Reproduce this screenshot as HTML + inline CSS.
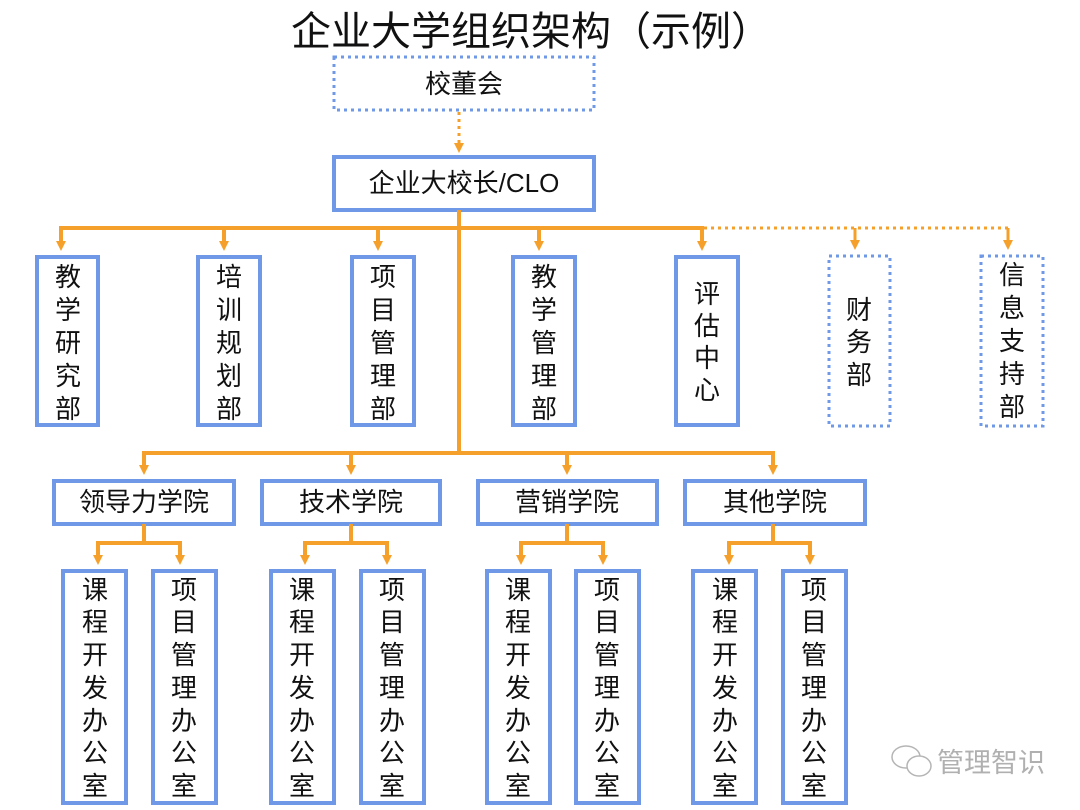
<!DOCTYPE html>
<html><head><meta charset="utf-8"><style>
html,body{margin:0;padding:0;background:#fff;}
svg{display:block;}
text{font-family:"Liberation Sans","Noto Sans CJK SC",sans-serif;fill:#111;}
.v{font-size:26px;text-anchor:middle;dominant-baseline:central;}
.h{font-size:26px;text-anchor:middle;dominant-baseline:central;}
</style></head><body>
<svg width="1080" height="810" viewBox="0 0 1080 810" xmlns="http://www.w3.org/2000/svg">
<defs>
<marker id="ar" markerWidth="12" markerHeight="12" refX="5" refY="5" markerUnits="userSpaceOnUse">
<path d="M0,0 L10,0 L5,10 Z" fill="#f5a02a"/></marker>
</defs>
<text x="531" y="32" style="font-size:40px;text-anchor:middle;dominant-baseline:central">企业大学组织架构（示例）</text>

<!-- boxes -->
<g fill="none" stroke="#6f98e6" stroke-width="4">
<rect x="334" y="57" width="260" height="53" stroke-dasharray="3 4" stroke-width="3"/>
<rect x="334" y="157" width="260" height="53"/>
<rect x="37" y="257" width="61" height="168"/>
<rect x="198" y="257" width="62" height="168"/>
<rect x="352" y="257" width="62" height="168"/>
<rect x="513" y="257" width="62" height="168"/>
<rect x="676" y="257" width="62" height="168"/>
<rect x="829" y="256" width="61" height="170" stroke-dasharray="3 4" stroke-width="3"/>
<rect x="981" y="256" width="62" height="170" stroke-dasharray="3 4" stroke-width="3"/>
<rect x="54" y="481" width="180" height="43"/>
<rect x="262" y="481" width="178" height="43"/>
<rect x="478" y="481" width="179" height="43"/>
<rect x="685" y="481" width="180" height="43"/>
<rect x="63" y="571" width="63" height="232"/>
<rect x="153" y="571" width="63" height="232"/>
<rect x="271" y="571" width="63" height="232"/>
<rect x="361" y="571" width="63" height="232"/>
<rect x="487" y="571" width="63" height="232"/>
<rect x="576" y="571" width="63" height="232"/>
<rect x="693" y="571" width="63" height="232"/>
<rect x="783" y="571" width="63" height="232"/>
</g>

<!-- connectors -->
<g fill="none" stroke="#f5a02a" stroke-width="4">
<line x1="459" y1="112" x2="459" y2="148" stroke-dasharray="3 4" stroke-width="3" marker-end="url(#ar)"/>
<line x1="459" y1="210" x2="459" y2="453"/>
<polyline points="61,246 61,228 702,228 702,246" marker-end="url(#ar)"/>
<line x1="224" y1="228" x2="224" y2="246" marker-end="url(#ar)"/>
<line x1="378" y1="228" x2="378" y2="246" marker-end="url(#ar)"/>
<line x1="539" y1="228" x2="539" y2="246" marker-end="url(#ar)"/>
<line x1="61" y1="230" x2="61" y2="246" marker-end="url(#ar)"/>
<polyline points="704,228 1008,228" stroke-dasharray="3 4" stroke-width="3"/>
<line x1="855" y1="228" x2="855" y2="245" stroke-width="3" marker-end="url(#ar)"/>
<line x1="1008" y1="228" x2="1008" y2="245" stroke-width="3" marker-end="url(#ar)"/>
<polyline points="144,470 144,453 773,453 773,470" marker-end="url(#ar)"/>
<line x1="144" y1="455" x2="144" y2="470" marker-end="url(#ar)"/>
<line x1="351" y1="453" x2="351" y2="470" marker-end="url(#ar)"/>
<line x1="567" y1="453" x2="567" y2="470" marker-end="url(#ar)"/>
<line x1="144" y1="524" x2="144" y2="543"/><polyline points="98,560 98,543 180,543 180,560" marker-end="url(#ar)"/><line x1="98" y1="545" x2="98" y2="560" marker-end="url(#ar)"/>
<line x1="351" y1="524" x2="351" y2="543"/><polyline points="305,560 305,543 387,543 387,560" marker-end="url(#ar)"/><line x1="305" y1="545" x2="305" y2="560" marker-end="url(#ar)"/>
<line x1="567" y1="524" x2="567" y2="543"/><polyline points="521,560 521,543 603,543 603,560" marker-end="url(#ar)"/><line x1="521" y1="545" x2="521" y2="560" marker-end="url(#ar)"/>
<line x1="773" y1="524" x2="773" y2="543"/><polyline points="729,560 729,543 810,543 810,560" marker-end="url(#ar)"/><line x1="729" y1="545" x2="729" y2="560" marker-end="url(#ar)"/>
</g>

<text class="h" x="464" y="84">校董会</text>
<text class="h" x="464" y="183">企业大校长/CLO</text>
<text class="h" x="144" y="502">领导力学院</text>
<text class="h" x="351" y="502">技术学院</text>
<text class="h" x="567" y="502">营销学院</text>
<text class="h" x="775" y="502">其他学院</text>

<g>
<text class="v"><tspan x="68" y="277">教</tspan><tspan x="68" y="310">学</tspan><tspan x="68" y="343">研</tspan><tspan x="68" y="376">究</tspan><tspan x="68" y="409">部</tspan></text>
<text class="v"><tspan x="229" y="277">培</tspan><tspan x="229" y="310">训</tspan><tspan x="229" y="343">规</tspan><tspan x="229" y="376">划</tspan><tspan x="229" y="409">部</tspan></text>
<text class="v"><tspan x="383" y="277">项</tspan><tspan x="383" y="310">目</tspan><tspan x="383" y="343">管</tspan><tspan x="383" y="376">理</tspan><tspan x="383" y="409">部</tspan></text>
<text class="v"><tspan x="544" y="277">教</tspan><tspan x="544" y="310">学</tspan><tspan x="544" y="343">管</tspan><tspan x="544" y="376">理</tspan><tspan x="544" y="409">部</tspan></text>
<text class="v"><tspan x="707" y="294">评</tspan><tspan x="707" y="326">估</tspan><tspan x="707" y="358">中</tspan><tspan x="707" y="390">心</tspan></text>
<text class="v"><tspan x="859" y="310">财</tspan><tspan x="859" y="342">务</tspan><tspan x="859" y="375">部</tspan></text>
<text class="v"><tspan x="1012" y="275">信</tspan><tspan x="1012" y="308">息</tspan><tspan x="1012" y="341">支</tspan><tspan x="1012" y="374">持</tspan><tspan x="1012" y="407">部</tspan></text>
</g>

<g>
<text class="v"><tspan x="95" y="590">课</tspan><tspan x="95" y="622">程</tspan><tspan x="95" y="655">开</tspan><tspan x="95" y="688">发</tspan><tspan x="95" y="721">办</tspan><tspan x="95" y="753">公</tspan><tspan x="95" y="786">室</tspan></text>
<text class="v"><tspan x="184" y="590">项</tspan><tspan x="184" y="622">目</tspan><tspan x="184" y="655">管</tspan><tspan x="184" y="688">理</tspan><tspan x="184" y="721">办</tspan><tspan x="184" y="753">公</tspan><tspan x="184" y="786">室</tspan></text>
<text class="v"><tspan x="302" y="590">课</tspan><tspan x="302" y="622">程</tspan><tspan x="302" y="655">开</tspan><tspan x="302" y="688">发</tspan><tspan x="302" y="721">办</tspan><tspan x="302" y="753">公</tspan><tspan x="302" y="786">室</tspan></text>
<text class="v"><tspan x="392" y="590">项</tspan><tspan x="392" y="622">目</tspan><tspan x="392" y="655">管</tspan><tspan x="392" y="688">理</tspan><tspan x="392" y="721">办</tspan><tspan x="392" y="753">公</tspan><tspan x="392" y="786">室</tspan></text>
<text class="v"><tspan x="518" y="590">课</tspan><tspan x="518" y="622">程</tspan><tspan x="518" y="655">开</tspan><tspan x="518" y="688">发</tspan><tspan x="518" y="721">办</tspan><tspan x="518" y="753">公</tspan><tspan x="518" y="786">室</tspan></text>
<text class="v"><tspan x="607" y="590">项</tspan><tspan x="607" y="622">目</tspan><tspan x="607" y="655">管</tspan><tspan x="607" y="688">理</tspan><tspan x="607" y="721">办</tspan><tspan x="607" y="753">公</tspan><tspan x="607" y="786">室</tspan></text>
<text class="v"><tspan x="725" y="590">课</tspan><tspan x="725" y="622">程</tspan><tspan x="725" y="655">开</tspan><tspan x="725" y="688">发</tspan><tspan x="725" y="721">办</tspan><tspan x="725" y="753">公</tspan><tspan x="725" y="786">室</tspan></text>
<text class="v"><tspan x="814" y="590">项</tspan><tspan x="814" y="622">目</tspan><tspan x="814" y="655">管</tspan><tspan x="814" y="688">理</tspan><tspan x="814" y="721">办</tspan><tspan x="814" y="753">公</tspan><tspan x="814" y="786">室</tspan></text>
</g>

<!-- watermark -->
<g fill="none" stroke="#b5b5b5" stroke-width="1.5">
<ellipse cx="906" cy="757" rx="14" ry="11"/>
<ellipse cx="919" cy="766" rx="12" ry="10" fill="#fff"/>
</g>
<text x="991" y="763" style="font-size:27px;text-anchor:middle;dominant-baseline:central;fill:#b0b0b0">管理智识</text>
</svg>
</body></html>
